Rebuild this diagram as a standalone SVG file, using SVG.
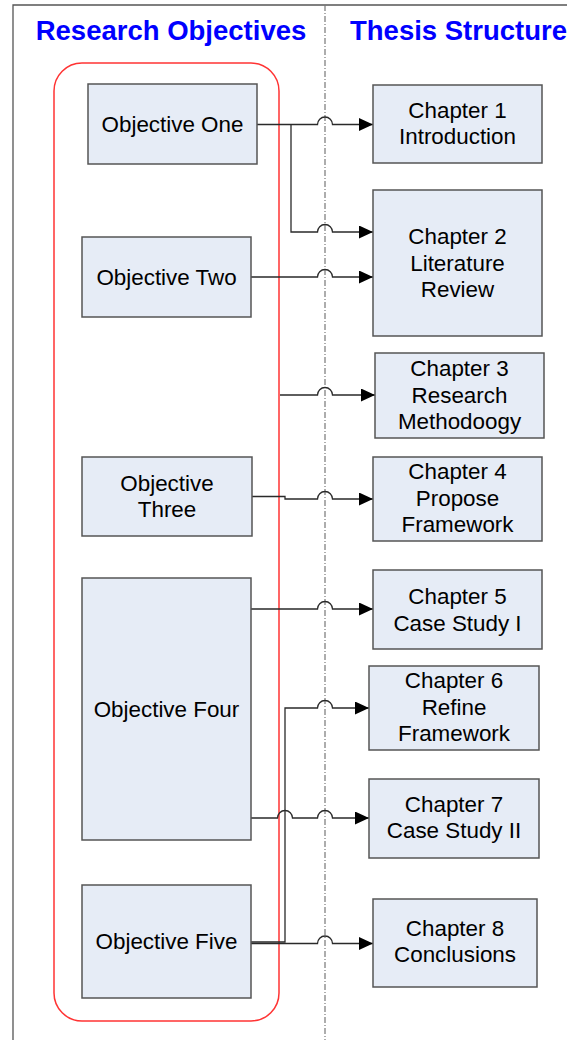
<svg xmlns="http://www.w3.org/2000/svg" width="567" height="1040" viewBox="0 0 567 1040">
  <defs>
    <marker id="arrow" markerUnits="userSpaceOnUse" markerWidth="15" markerHeight="14" refX="14" refY="6.5" orient="auto">
      <path d="M0,0 L14,6.5 L0,13 Z" fill="#000"/>
    </marker>
    <style>
      .box { fill: #E6ECF6; stroke: #555; stroke-width: 1.5; }
      .lbl { font-family: "Liberation Sans", Arial, sans-serif; font-size: 22.4px; fill: #000; text-anchor: middle; }
      .head { font-family: "Liberation Sans", Arial, sans-serif; font-size: 27.5px; font-weight: bold; fill: #0000FF; }
      .link { fill: none; stroke: #2a2a2a; stroke-width: 1.3; marker-end: url(#arrow); }
    </style>
  </defs>

  <rect width="567" height="1040" fill="#fff"/>

  <!-- page frame and column divider -->
  <g id="frame">
    <path d="M13,1040 V5 H567" fill="none" stroke="#555" stroke-width="1.3"/>
    <line x1="325" y1="5" x2="325" y2="1040" stroke="#777" stroke-width="1.2" stroke-dasharray="6 2 1 2"/>
  </g>

  <!-- column headings -->
  <g id="headings">
    <text class="head" x="171" y="40" text-anchor="middle">Research Objectives</text>
    <text class="head" x="350" y="40">Thesis Structure</text>
  </g>

  <!-- objectives container -->
  <g id="objectives-group">
    <rect x="54" y="63" width="225" height="958" rx="28" ry="28" fill="none" stroke="#FF3333" stroke-width="1.5"/>
  </g>

  <!-- connectors: each hops over the divider at x=325 -->
  <g id="connectors">
    <path class="link" d="M257,124.5 H317.5 A7.5,7.5 0 0 1 332.5,124.5 H373"/>
    <path class="link" d="M291,124.5 V232 H317.5 A7.5,7.5 0 0 1 332.5,232 H373"/>
    <path class="link" d="M251,277 H317.5 A7.5,7.5 0 0 1 332.5,277 H373"/>
    <path class="link" d="M280,395 H317.5 A7.5,7.5 0 0 1 332.5,395 H375"/>
    <path class="link" d="M252,496.5 H285 V499 H317.5 A7.5,7.5 0 0 1 332.5,499 H373"/>
    <path class="link" d="M251,609 H317.5 A7.5,7.5 0 0 1 332.5,609 H373"/>
    <path class="link" d="M251,942 H285 V708 H317.5 A7.5,7.5 0 0 1 332.5,708 H369"/>
    <path class="link" d="M251,818 H277.5 A7.5,7.5 0 0 1 292.5,818 H317.5 A7.5,7.5 0 0 1 332.5,818 H369"/>
    <path class="link" d="M251,943.5 H317.5 A7.5,7.5 0 0 1 332.5,943.5 H373"/>
  </g>

  <!-- research objectives -->
  <g id="obj-one">
    <rect class="box" x="88" y="84" width="169" height="80"/>
    <text class="lbl" x="172.5" y="131.5">Objective One</text>
  </g>
  <g id="obj-two">
    <rect class="box" x="82" y="237" width="169" height="80"/>
    <text class="lbl" x="166.5" y="284.5">Objective Two</text>
  </g>
  <g id="obj-three">
    <rect class="box" x="82" y="457" width="170" height="79"/>
    <text class="lbl" x="167" y="490.5">Objective</text>
    <text class="lbl" x="167" y="517">Three</text>
  </g>
  <g id="obj-four">
    <rect class="box" x="82" y="578" width="169" height="262"/>
    <text class="lbl" x="166.5" y="716.5">Objective Four</text>
  </g>
  <g id="obj-five">
    <rect class="box" x="82" y="885" width="169" height="113"/>
    <text class="lbl" x="166.5" y="949">Objective Five</text>
  </g>

  <!-- thesis chapters -->
  <g id="ch1">
    <rect class="box" x="373" y="85" width="169" height="78"/>
    <text class="lbl" x="457.5" y="117.5">Chapter 1</text>
    <text class="lbl" x="457.5" y="144">Introduction</text>
  </g>
  <g id="ch2">
    <rect class="box" x="373" y="190" width="169" height="146"/>
    <text class="lbl" x="457.5" y="244">Chapter 2</text>
    <text class="lbl" x="457.5" y="270.5">Literature</text>
    <text class="lbl" x="457.5" y="297">Review</text>
  </g>
  <g id="ch3">
    <rect class="box" x="375" y="353" width="169" height="85"/>
    <text class="lbl" x="459.5" y="376">Chapter 3</text>
    <text class="lbl" x="459.5" y="402.5">Research</text>
    <text class="lbl" x="459.5" y="429">Methodoogy</text>
  </g>
  <g id="ch4">
    <rect class="box" x="373" y="457" width="169" height="84"/>
    <text class="lbl" x="457.5" y="479">Chapter 4</text>
    <text class="lbl" x="457.5" y="505.5">Propose</text>
    <text class="lbl" x="457.5" y="532">Framework</text>
  </g>
  <g id="ch5">
    <rect class="box" x="373" y="570" width="169" height="79"/>
    <text class="lbl" x="457.5" y="604">Chapter 5</text>
    <text class="lbl" x="457.5" y="630.5">Case Study I</text>
  </g>
  <g id="ch6">
    <rect class="box" x="369" y="666" width="170" height="84"/>
    <text class="lbl" x="454" y="688">Chapter 6</text>
    <text class="lbl" x="454" y="714.5">Refine</text>
    <text class="lbl" x="454" y="741">Framework</text>
  </g>
  <g id="ch7">
    <rect class="box" x="369" y="779" width="170" height="79"/>
    <text class="lbl" x="454" y="811.5">Chapter 7</text>
    <text class="lbl" x="454" y="838">Case Study II</text>
  </g>
  <g id="ch8">
    <rect class="box" x="373" y="899" width="164" height="88"/>
    <text class="lbl" x="455" y="935.5">Chapter 8</text>
    <text class="lbl" x="455" y="962">Conclusions</text>
  </g>
</svg>
